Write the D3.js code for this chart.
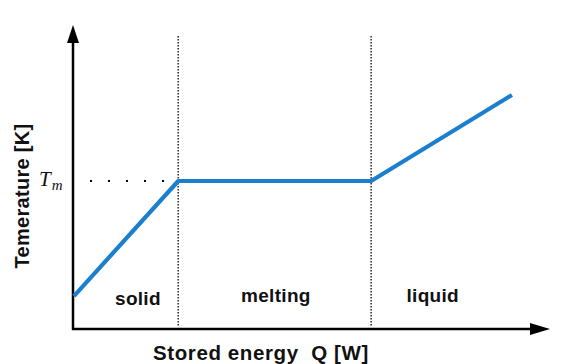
<!DOCTYPE html>
<html><head><meta charset="utf-8">
<script src="https://cdn.jsdelivr.net/npm/d3@7"></script>
<style>html,body{margin:0;padding:0;background:#fff;}</style>
</head><body>
<svg id="c" width="580" height="364"></svg>
<script>
const energy = [0.2, 22.2, 62.9, 92.6];
const temperature = [10.9, 49, 49, 77.5];
const phaseBounds = [22.2, 62.9];
const phaseLabels = ["solid", "melting", "liquid"];
const phaseLabelQ = [13.7, 42.8, 75.9];
const meltT = 49;

const svg = d3.select("#c");
const x = d3.scaleLinear().domain([0, 100]).range([73, 547]);
const y = d3.scaleLinear().domain([0, 100]).range([329, 27]);

// phase boundaries
svg.selectAll("line.b").data(phaseBounds).join("line")
  .attr("x1", d => x(d)).attr("x2", d => x(d))
  .attr("y1", 36).attr("y2", 327)
  .attr("stroke", "#333").attr("stroke-width", 1.6).attr("stroke-dasharray", "1.5,1.5");

// Tm dotted
svg.append("line").attr("x1", 90).attr("x2", x(phaseBounds[0]))
  .attr("y1", y(meltT)).attr("y2", y(meltT))
  .attr("stroke", "#000").attr("stroke-width", 2).attr("stroke-dasharray", "2,16");

// axes
svg.append("line").attr("x1", 73).attr("x2", 73).attr("y1", 40).attr("y2", 330)
  .attr("stroke", "#000").attr("stroke-width", 2.5);
svg.append("line").attr("x1", 72).attr("x2", 532).attr("y1", 329).attr("y2", 329)
  .attr("stroke", "#000").attr("stroke-width", 2.5);
svg.append("path").attr("d", "M73,25 L67,43 L79,43 Z").attr("fill", "#000");
svg.append("path").attr("d", "M550,329 L530,323 L530,335 Z").attr("fill", "#000");

// curve
const line = d3.line().x((d, i) => x(energy[i])).y(d => y(d));
svg.append("path").datum(temperature).attr("d", line)
  .attr("fill", "none").attr("stroke", "#1b7fcf").attr("stroke-width", 4.2)
  .attr("stroke-linejoin", "round");

// phase labels
svg.selectAll("text.p").data(phaseLabels).join("text")
  .attr("x", (d, i) => x(phaseLabelQ[i])).attr("y", (d, i) => i === 0 ? 305 : 302)
  .attr("text-anchor", "middle").attr("letter-spacing", 0.3)
  .attr("font-family", "Liberation Sans, Arial, sans-serif").attr("font-weight", "bold")
  .attr("font-size", 19).attr("fill", "#111").text(d => d);

// Tm label
const tm = svg.append("text").attr("x", 39).attr("y", 186)
  .attr("font-family", "Liberation Serif, Times New Roman, serif").attr("font-style", "italic")
  .attr("font-size", 21).attr("fill", "#111");
tm.append("tspan").text("T");
tm.append("tspan").attr("font-size", 15).attr("dy", 4).attr("dx", 1).text("m");

// axis titles
svg.append("text").attr("transform", "translate(29,196) rotate(-90)")
  .attr("text-anchor", "middle").attr("letter-spacing", 0.3)
  .attr("font-family", "Liberation Sans, Arial, sans-serif").attr("font-weight", "bold")
  .attr("font-size", 20).attr("fill", "#111").text("Temerature [K]");
svg.append("text").attr("x", 153).attr("y", 360).attr("letter-spacing", 0.6)
  .attr("font-family", "Liberation Sans, Arial, sans-serif").attr("font-weight", "bold")
  .attr("font-size", 20.5).attr("fill", "#111").attr("xml:space", "preserve")
  .text("Stored energy  Q [W]");
</script>
</body></html>
